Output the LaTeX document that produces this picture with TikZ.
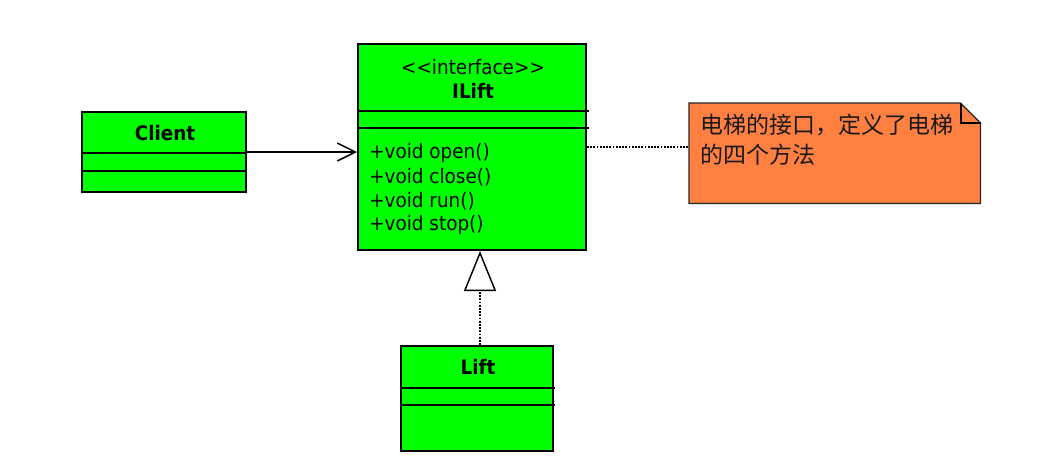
\documentclass[tikz,border=0pt]{standalone}
\usepackage{fontspec}
\usepackage{graphicx}
\setmainfont{DejaVu Sans}
\newfontfamily\cjk{Noto Sans CJK SC}
\usetikzlibrary{arrows.meta}
\definecolor{boxgreen}{RGB}{0,255,0}
\definecolor{noteorange}{RGB}{255,128,64}
\newcommand{\nx}[1]{\scalebox{0.92}[1]{#1}}
\begin{document}
\begin{tikzpicture}[x=0.75pt,y=-0.75pt,
  classbox/.style={draw=black, fill=boxgreen, line width=1.5pt, anchor=north west, inner sep=0pt},
  divider/.style={line width=1.5pt},
  lbl/.style={font=\fontsize{15pt}{18pt}\selectfont, inner sep=0pt},
  blbl/.style={font=\fontsize{15pt}{18pt}\selectfont\bfseries, inner sep=0pt},
  assoc/.style={line width=1.1pt, -{Straight Barb[length=13.5pt,width=13.5pt,line width=1.1pt]}},
  realize/.style={line width=1.4pt, densely dotted, -{Triangle[open, length=30pt, width=24pt, line width=1.1pt]}},
  notelink/.style={line width=1.4pt, densely dotted}
]
\useasboundingbox (0,0) rectangle (1060,465);
\fill[white] (0,0) rectangle (1060,465);

% Client
\node[classbox, minimum width=123pt, minimum height=60pt] (client) at (81,111) {};
\draw[divider] (81,153) -- (247,153);
\draw[divider] (81,171) -- (247,171);
\node[blbl] (clientname) at (165,133) {\nx{Client}};

% ILift
\node[classbox, minimum width=171pt, minimum height=154.5pt] (ilift) at (357,43) {};
\draw[divider] (357,111) -- (589,111);
\draw[divider] (357,128) -- (589,128);
\node[lbl] (stereo) at (473,67) {\nx{<{}<interface>{}>}};
\node[blbl] (iliftname) at (473,91) {\nx{ILift}};
\node[lbl, anchor=west] (m1) at (369,153) {\nx{+void open()}};
\node[lbl, anchor=west] (m2) at (369,177) {\nx{+void close()}};
\node[lbl, anchor=west] (m3) at (369,201) {\nx{+void run()}};
\node[lbl, anchor=west] (m4) at (369,225) {\nx{+void stop()}};

% Lift
\node[classbox, minimum width=114pt, minimum height=78.75pt] (lift) at (400,345) {};
\draw[divider] (400,388) -- (555,388);
\draw[divider] (400,405) -- (555,405);
\node[blbl] (liftname) at (478,367) {\nx{Lift}};

% Note
\node[anchor=north west, inner sep=0pt, minimum width=218.25pt, minimum height=75pt] (note) at (689,103) {};
\draw[fill=noteorange, draw=black!85, line width=1pt]
  (note.north west) -- ([xshift=-15pt]note.north east) -- ([yshift=-15pt]note.north east)
  -- (note.south east) -- (note.south west) -- cycle;
\draw[line width=1.5pt, line join=miter]
  ([xshift=-15pt]note.north east) -- ([xshift=-15pt,yshift=-15pt]note.north east) -- ([yshift=-15pt]note.north east);
\node[anchor=north west, inner sep=0pt, align=left, text=black!90,
      font=\cjk\fontsize{17.25pt}{22.5pt}\selectfont] (notetext) at (700,114)
  {电梯的接口，定义了电梯\\的四个方法};

% Connectors
\coordinate (rx) at (480,0);
\draw[assoc] (client.east) -- (client.east -| ilift.west);
\draw[realize] (lift.north -| rx) -- (ilift.south -| rx);
\draw[notelink] (ilift.east) -- (ilift.east -| note.west);
\end{tikzpicture}
\end{document}
